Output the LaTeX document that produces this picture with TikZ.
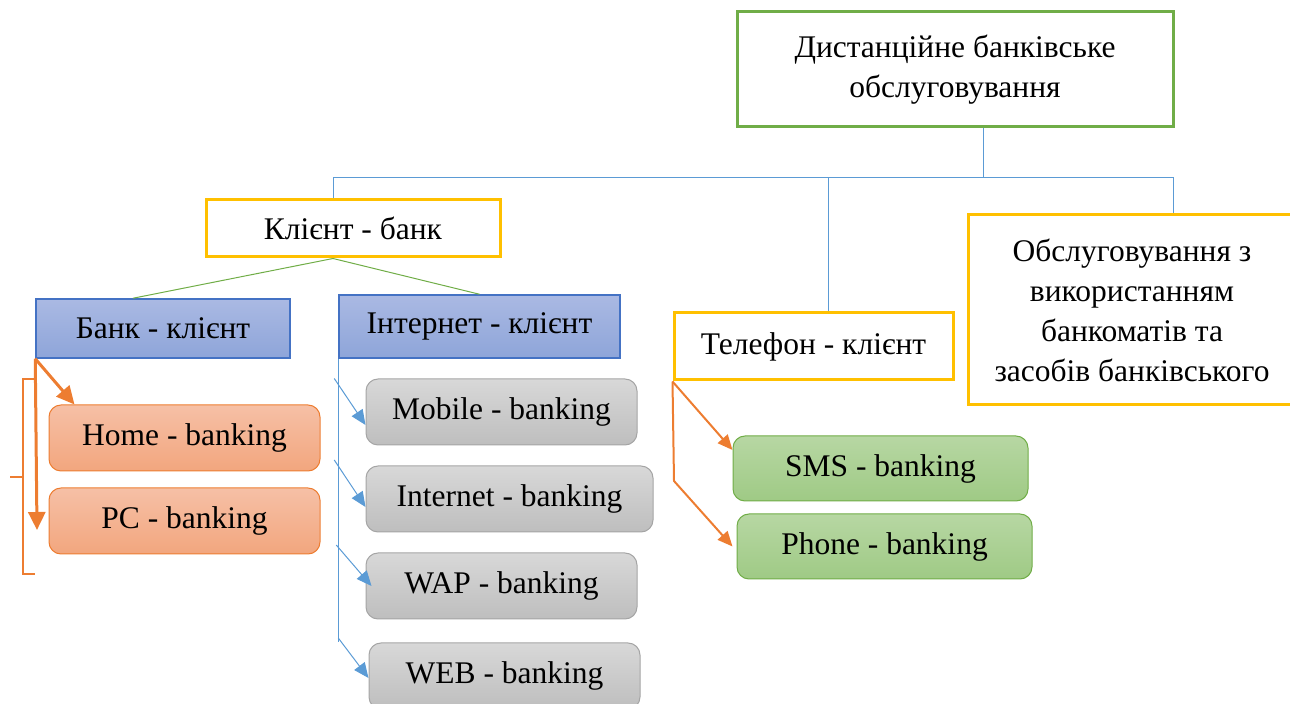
\documentclass[tikz,border=0pt]{standalone}
\usepackage{fontspec}
\setmainfont{Liberation Serif}
\usetikzlibrary{arrows.meta}
\definecolor{wgreen}{HTML}{70AD47}
\definecolor{wgold}{HTML}{FFC000}
\definecolor{wline}{HTML}{5B9BD5}
\definecolor{wblue}{HTML}{4472C4}
\definecolor{worange}{HTML}{ED7D31}
\definecolor{wgray}{HTML}{A5A5A5}
\tikzset{
    >={Triangle[length=7.5pt, width=6.5pt]} % Default arrow tip
}
\tikzstyle{every node}=[
    font = \fontsize{15.75}{20}\selectfont,
    align = center,
    inner sep = 0pt
]
\tikzstyle{mainbox}=[draw = wgreen, line width = 1.5pt]
\tikzstyle{goldbox}=[draw = wgold, line width = 1.5pt]
\tikzstyle{bluebox}=[draw = wblue, line width = 0.75pt,
    top color = {rgb,255:red,170;green,185;blue,227},
    bottom color = {rgb,255:red,142;green,165;blue,217}]
\tikzstyle{roundbox}=[rounded corners = 6pt, line width = 0.5pt,
    minimum width = 135.5pt, minimum height = 33pt]
\tikzstyle{orangebox}=[roundbox, draw = worange,
    top color = {rgb,255:red,246;green,192;blue,166},
    bottom color = {rgb,255:red,242;green,166;blue,126}]
\tikzstyle{graybox}=[roundbox, draw = wgray,
    top color = {rgb,255:red,216;green,216;blue,216},
    bottom color = {rgb,255:red,190;green,190;blue,190}]
\tikzstyle{greenbox}=[roundbox, draw = wgreen,
    minimum width = 147.5pt, minimum height = 32.5pt,
    top color = {rgb,255:red,183;green,215;blue,163},
    bottom color = {rgb,255:red,159;green,202;blue,133}]
\tikzstyle{treeline}=[draw = wline, line width = 0.5pt]
\tikzstyle{subline}=[draw = wgreen, line width = 0.5pt]
\tikzstyle{bankarrow}=[draw = worange, line width = 1.5pt,
    -{Triangle[length=9pt, width=8.5pt]}]
\tikzstyle{phonearrow}=[draw = worange, line width = 1pt, ->]
\tikzstyle{netarrow}=[draw = wline, line width = 0.5pt, ->]

\begin{document}
\begin{tikzpicture}[x=0.5pt, y=-0.5pt]
    \useasboundingbox (0,0) rectangle (1290,704);

    % top level
    \node [mainbox, minimum width=218pt, minimum height=57.5pt] (dist) at (955,69.5)
        {Дистанційне банківське\\обслуговування};
    \node [goldbox, minimum width=147pt, minimum height=28.5pt] (kb) at (353,228.5)
        {Клієнт - банк};
    \node [goldbox, minimum width=139.5pt, minimum height=33.5pt] (tk) at (813.5,346.5)
        {Телефон - клієнт};
    \node [goldbox, minimum width=164pt, minimum height=95pt] (atm) at (1132,310)
        {Обслуговування з\\використанням\\банкоматів та\\засобів банківського};

    % client - bank
    \node [bluebox, minimum width=127pt, minimum height=29.5pt] (bk) at (163,328.5)
        {Банк - клієнт};
    \node [bluebox, minimum width=140.5pt, minimum height=31.5pt] (ik) at (479.5,326.5)
        {Інтернет - клієнт};

    \node [orangebox] (home) at (184.5,438) {Home - banking};
    \node [orangebox] (pc) at (184.5,521) {PC - banking};

    \node [graybox] (mob) at (501.5,412) {Mobile - banking};
    \node [graybox, minimum width=143.5pt] (inet) at (509.5,499) {Internet - banking};
    \node [graybox] (wap) at (501.5,586) {WAP - banking};
    \node [graybox] (web) at (504.5,676) {WEB - banking};

    \node [greenbox] (sms) at (880.5,468.5) {SMS - banking};
    \node [greenbox] (phone) at (884.5,546.5) {Phone - banking};

    % tree lines
    \coordinate (bus) at (983,178);
    \coordinate (busend) at (1173,178);
    \draw [treeline] (dist.south -| bus) -- (bus);
    \draw [treeline] ([xshift=-10pt]kb.north) |- (busend) -- (atm.north -| busend);
    \draw [treeline] ([xshift=7.25pt]tk.north) -- ([xshift=7.25pt]tk.north |- bus);
    \draw [subline] ([xshift=-10pt]kb.south) -- ([xshift=-15pt]bk.north);
    \draw [subline] ([xshift=-10pt]kb.south) -- (ik.north);

    % bank arrows
    \coordinate (bkend) at (37,530);
    \draw [bankarrow] (bk.south west) -- ([xshift=13pt]home.north west);
    \draw [bankarrow] (bk.south west) -- (bkend);
    \draw [draw=worange, line width=1pt] (35,379) -- (23,379) -- (23,574) -- (35,574)
        (23,477) -- (10,477);

    % internet arrows
    \draw [treeline] (ik.south west) -- (ik.south west |- web.north);
    \draw [netarrow] ([xshift=-2pt]ik.south west |- mob.north) -- ([yshift=-6.5pt]mob.west);
    \draw [netarrow] ([xshift=-2pt]ik.south west |- 0,460) -- ([yshift=-4pt]inet.west);
    \draw [netarrow] ([xshift=-1pt]ik.south west |- 0,545) -- ([xshift=3pt]wap.west);
    \draw [netarrow] (ik.south west |- 0,638) -- ([yshift=-1pt]web.west);

    % phone arrows
    \draw [phonearrow] (tk.south west) -- ([yshift=9.25pt]sms.west);
    \draw [phonearrow] (tk.south west) -- (674,481) -- ([xshift=-2pt]phone.west);
\end{tikzpicture}
\end{document}
